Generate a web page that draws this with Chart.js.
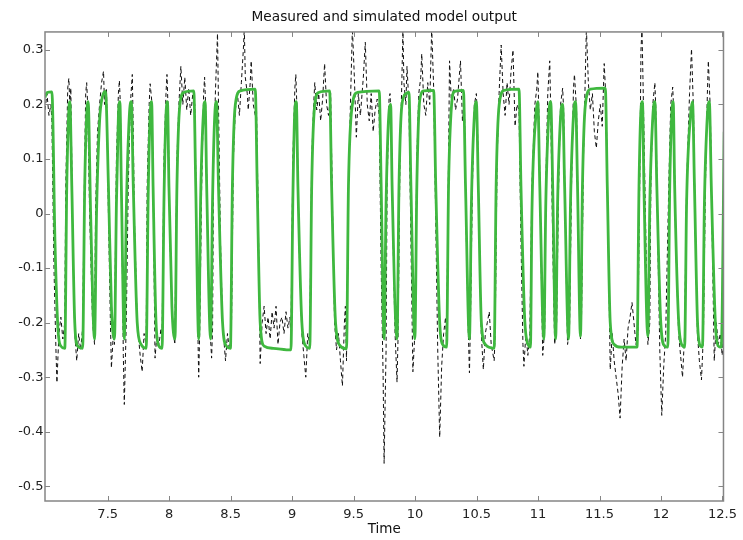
<!DOCTYPE html>
<html>
<head>
<meta charset="utf-8">
<script src="https://cdn.jsdelivr.net/npm/chart.js@4/dist/chart.umd.min.js"></script>
<style>
  html, body { margin: 0; padding: 0; background: #fff; }
  #wrap { width: 743px; height: 540px; }
</style>
</head>
<body>
<div id="wrap"><canvas id="c" width="743" height="540"></canvas></div>
<script>
// Simulated model output (time, value)
const modelTime = [
  6.990,7.006,7.046,7.071,7.095,7.119,7.151,
  7.167,7.184,7.192,7.208,7.232,7.256,7.296,
  7.313,7.329,7.341,7.361,7.393,
  7.409,7.434,7.458,7.482,7.506,7.530,7.555,
  7.571,7.587,7.599,7.611,7.635,
  7.651,7.676,7.692,7.708,7.740,7.772,7.813,
  7.829,7.845,7.857,7.869,7.893,7.917,7.942,
  7.958,7.974,7.986,7.998,8.022,8.047,
  8.063,8.087,8.119,8.200,8.216,8.240,
  8.256,8.280,8.292,8.305,8.337,
  8.353,8.373,8.385,8.401,8.434,8.466,8.498,
  8.514,8.538,8.579,8.700,8.716,8.740,8.772,8.845,8.990,
  9.006,9.022,9.034,9.047,9.079,9.111,9.143,
  9.159,9.184,9.216,9.305,9.321,9.353,9.393,9.442,
  9.458,9.490,9.530,9.708,9.724,9.748,
  9.764,9.789,9.801,9.813,9.853,
  9.869,9.893,9.926,9.950,9.966,9.998,
  10.014,10.039,10.071,10.151,10.168,10.200,10.224,10.256,
  10.272,10.297,10.321,10.393,10.410,10.442,
  10.458,10.482,10.498,10.514,10.539,10.571,10.643,
  10.659,10.684,10.724,10.845,10.861,10.893,10.926,10.938,
  10.950,10.982,10.998,11.014,11.047,
  11.063,11.087,11.103,11.119,11.143,
  11.159,11.184,11.200,11.216,11.248,
  11.264,11.288,11.305,11.321,11.345,
  11.361,11.385,11.426,11.547,11.563,11.587,11.619,11.676,11.805,
  11.821,11.837,11.849,11.861,11.893,
  11.909,11.934,11.950,11.966,11.998,12.030,12.055,
  12.071,12.087,12.099,12.111,12.144,12.176,12.192,
  12.208,12.240,12.256,12.272,12.297,12.321,12.337,
  12.353,12.377,12.393,12.409,12.442,12.466,12.490,
  12.514
];
const modelOutput = [
  0.213,0.222,0.223,-0.05,-0.21,-0.243,-0.247,
  0.05,0.19,0.205,0.05,-0.2,-0.243,-0.247,
  0.05,0.18,0.205,0.0,-0.23,
  0.0,0.17,0.215,0.224,0.05,-0.17,-0.23,
  0.02,0.18,0.205,0.05,-0.23,
  0.0,0.18,0.205,0.05,-0.2,-0.24,-0.247,
  0.03,0.18,0.205,0.05,-0.2,-0.243,-0.247,
  0.03,0.18,0.205,0.05,-0.17,-0.23,
  0.05,0.2,0.222,0.225,0.05,-0.23,
  0.03,0.19,0.205,0.05,-0.23,
  0.03,0.19,0.205,0.05,-0.2,-0.243,-0.247,
  0.05,0.2,0.225,0.228,0.05,-0.2,-0.243,-0.247,-0.25,
  0.03,0.19,0.205,0.05,-0.2,-0.243,-0.247,
  0.05,0.2,0.222,0.225,0.05,-0.2,-0.243,-0.248,
  0.05,0.2,0.222,0.225,0.05,-0.23,
  0.02,0.19,0.2,0.05,-0.23,
  0.05,0.2,0.22,0.222,0.05,-0.23,
  0.05,0.21,0.225,0.226,0.05,-0.2,-0.24,-0.245,
  0.05,0.2,0.224,0.226,0.05,-0.23,
  0.02,0.18,0.205,0.05,-0.2,-0.24,-0.247,
  0.05,0.2,0.226,0.228,0.05,-0.2,-0.243,-0.245,
  0.0,0.18,0.205,0.05,-0.23,
  0.02,0.18,0.205,0.05,-0.23,
  0.02,0.18,0.2,0.05,-0.23,
  0.02,0.18,0.205,0.05,-0.225,
  0.05,0.2,0.228,0.23,0.05,-0.2,-0.24,-0.245,-0.245,
  0.05,0.19,0.205,0.05,-0.225,
  0.02,0.18,0.205,0.05,-0.2,-0.243,-0.245,
  0.05,0.18,0.205,0.05,-0.2,-0.243,-0.245,
  0.02,0.18,0.205,0.05,-0.2,-0.243,-0.245,
  0.02,0.18,0.205,0.05,-0.2,-0.243,-0.245,
  0.15
];

// Measured output (time, value)
const measuredTime = [
  6.990,7.006,7.022,7.038,7.046,7.063,7.079,7.087,7.103,7.119,7.135,7.151,
  7.159,7.175,7.184,7.192,7.200,7.216,7.232,7.248,7.264,7.280,7.296,
  7.313,7.321,7.329,7.337,7.353,7.377,7.393,
  7.401,7.417,7.434,7.450,7.466,7.474,7.490,7.506,7.522,7.530,7.546,7.555,
  7.571,7.587,7.595,7.603,7.619,7.627,7.635,7.651,
  7.667,7.684,7.700,7.708,7.716,7.740,7.764,7.780,7.796,7.813,
  7.821,7.837,7.845,7.861,7.877,7.885,7.901,7.917,7.934,7.942,
  7.958,7.974,7.982,7.990,8.006,8.030,8.046,
  8.063,8.079,8.095,8.111,8.127,8.143,8.159,8.175,8.192,8.208,8.224,8.232,8.240,8.248,
  8.264,8.280,8.288,8.296,8.313,8.329,8.345,8.353,
  8.361,8.377,8.393,8.401,8.417,8.434,8.458,8.474,8.490,8.506,
  8.522,8.538,8.555,8.571,8.587,8.603,8.611,8.619,8.635,8.643,8.659,8.667,8.684,8.700,8.708,
  8.724,8.740,8.756,8.772,8.788,8.804,8.821,8.837,8.853,8.869,8.885,8.901,8.917,8.934,8.950,8.966,8.982,8.990,
  9.006,9.022,9.030,9.038,9.055,9.079,9.095,9.111,9.127,9.143,
  9.159,9.175,9.184,9.200,9.216,9.232,9.248,9.264,9.280,9.296,9.313,
  9.329,9.345,9.361,9.377,9.393,9.409,9.425,9.433,9.442,
  9.458,9.474,9.490,9.506,9.522,9.538,9.555,9.579,9.595,9.611,9.627,9.643,9.659,9.675,9.692,9.708,
  9.724,9.740,9.748,9.756,9.764,
  9.772,9.788,9.796,9.805,9.821,9.837,9.853,9.861,
  9.877,9.893,9.901,9.909,9.925,9.934,9.950,9.966,9.982,9.998,
  10.014,10.030,10.046,10.054,10.071,10.087,10.103,10.119,10.135,10.151,
  10.167,10.184,10.200,10.216,10.232,10.248,10.256,
  10.272,10.280,10.296,10.313,10.329,10.345,10.369,10.385,10.401,
  10.417,10.433,10.442,10.450,
  10.466,10.482,10.498,10.506,
  10.522,10.538,10.555,10.571,10.587,10.603,10.619,10.643,10.651,
  10.667,10.683,10.700,10.716,10.732,10.748,10.764,10.780,10.796,10.813,10.829,10.845,
  10.861,10.877,10.885,10.901,10.917,10.933,
  10.950,10.974,10.990,10.998,11.006,11.022,11.038,11.054,
  11.063,11.079,11.095,11.103,11.119,11.135,11.151,
  11.167,11.183,11.200,11.208,11.224,11.240,11.256,
  11.272,11.288,11.296,11.313,11.329,11.345,11.353,
  11.369,11.385,11.393,11.409,11.425,11.442,11.458,11.474,11.490,11.506,11.522,11.538,11.554,
  11.571,11.587,11.603,11.619,11.635,11.651,11.667,11.684,11.700,11.716,11.732,11.748,11.764,11.780,11.796,11.812,
  11.829,11.837,11.845,11.853,11.861,11.877,11.893,11.909,
  11.917,11.933,11.950,11.958,11.974,11.990,12.006,12.022,12.038,
  12.063,12.079,12.095,12.103,12.119,12.143,12.159,12.175,12.192,
  12.208,12.232,12.248,12.264,12.280,12.296,12.312,12.329,12.345,
  12.361,12.377,12.385,12.401,12.417,12.433,12.450,12.466,12.482,12.498,
  12.514
];
const measuredOutput = [
  0.19,0.22,0.18,0.20,0.17,-0.10,-0.25,-0.31,-0.22,-0.19,-0.23,-0.20,
  0.05,0.23,0.248,0.20,0.23,-0.05,-0.22,-0.27,-0.22,-0.25,-0.21,
  0.10,0.22,0.24,0.20,0.00,-0.20,-0.24,
  0.00,0.15,0.20,0.24,0.261,0.20,0.23,0.00,-0.20,-0.283,-0.22,-0.24,
  0.10,0.22,0.244,0.20,-0.10,-0.26,-0.35,-0.20,
  0.05,0.20,0.255,0.15,0.00,-0.20,-0.26,-0.29,-0.22,-0.24,
  0.05,0.20,0.238,0.20,-0.10,-0.265,-0.22,-0.24,-0.21,-0.23,
  0.10,0.22,0.255,0.20,-0.05,-0.21,-0.24,
  0.10,0.20,0.27,0.20,0.25,0.19,0.23,0.18,0.22,0.20,-0.05,-0.20,-0.30,-0.22,
  0.05,0.22,0.25,0.20,-0.05,-0.20,-0.265,-0.21,
  0.10,0.23,0.33,0.20,-0.05,-0.20,-0.27,-0.22,-0.25,-0.22,
  0.10,0.19,0.22,0.18,0.24,0.30,0.34,0.25,0.22,0.19,0.24,0.28,0.20,0.18,0.22,
  0.00,-0.275,-0.20,-0.17,-0.22,-0.19,-0.23,-0.18,-0.21,-0.17,-0.24,-0.20,-0.19,-0.22,-0.18,-0.21,-0.19,-0.23,
  0.10,0.23,0.255,0.20,-0.05,-0.22,-0.26,-0.30,-0.22,-0.24,
  0.10,0.20,0.24,0.19,0.22,0.17,0.21,0.275,0.20,0.18,0.22,
  0.00,-0.20,-0.25,-0.22,-0.27,-0.316,-0.20,-0.17,-0.27,
  0.05,0.20,0.34,0.25,0.14,0.22,0.18,0.25,0.314,0.20,0.17,0.22,0.15,0.19,0.21,0.18,
  -0.10,-0.30,-0.458,-0.35,-0.25,
  0.05,0.21,0.22,0.17,-0.05,-0.22,-0.309,-0.23,
  0.10,0.25,0.34,0.24,0.20,0.27,0.20,-0.05,-0.29,-0.22,
  0.10,0.22,0.25,0.293,0.20,0.18,0.24,0.20,0.34,0.23,
  0.00,-0.25,-0.41,-0.28,-0.22,-0.19,-0.24,
  0.10,0.28,0.20,0.23,0.19,0.21,0.28,0.17,0.20,
  -0.05,-0.22,-0.292,-0.20,
  0.05,0.20,0.22,0.18,
  -0.05,-0.22,-0.286,-0.22,-0.20,-0.18,-0.24,-0.27,-0.22,
  0.10,0.22,0.309,0.22,0.18,0.24,0.20,0.26,0.30,0.16,0.20,0.19,
  -0.05,-0.24,-0.28,-0.22,-0.26,-0.22,
  0.05,0.20,0.23,0.26,0.19,-0.05,-0.26,-0.21,
  0.05,0.22,0.28,0.19,-0.05,-0.24,-0.20,
  0.05,0.20,0.23,0.19,-0.05,-0.24,-0.21,
  0.05,0.23,0.255,0.19,-0.05,-0.23,-0.20,
  0.10,0.26,0.34,0.24,0.19,0.22,0.15,0.12,0.17,0.20,0.16,0.275,0.20,
  -0.05,-0.286,-0.22,-0.27,-0.30,-0.33,-0.375,-0.28,-0.23,-0.27,-0.21,-0.19,-0.163,-0.20,-0.24,-0.22,
  0.10,0.30,0.34,0.25,0.15,-0.05,-0.24,-0.20,
  0.05,0.20,0.24,0.19,-0.05,-0.25,-0.37,-0.28,-0.22,
  0.05,0.20,0.232,0.19,-0.05,-0.22,-0.26,-0.30,-0.22,
  0.05,0.22,0.302,0.19,-0.05,-0.22,-0.27,-0.305,-0.22,
  0.05,0.22,0.28,0.19,-0.05,-0.27,-0.20,-0.24,-0.22,-0.26,
  0.00
];

// Axis ranges and tick positions
const timeRange = [6.99, 12.508];
const outputRange = [-0.527, 0.333];
const timeTicks = [7.5, 8, 8.5, 9, 9.5, 10, 10.5, 11, 11.5, 12, 12.5];
const outputTicks = [-0.5, -0.4, -0.3, -0.2, -0.1, 0, 0.1, 0.2, 0.3];

const toPoints = (xs, ys) => xs.map((x, i) => ({ x, y: ys[i] }));
const fmt = v => String(Math.round(v * 10) / 10);
const FONT = 'DejaVu Sans';
const AXIS_GRAY = '#858585';

// Box around the plot with inward tick marks on all four sides
const boxAndTicks = {
  id: 'boxAndTicks',
  afterDatasetsDraw(chart) {
    const { ctx, chartArea: a, scales } = chart;
    const len = 5;
    ctx.save();
    ctx.strokeStyle = AXIS_GRAY;
    ctx.lineWidth = 1.5;
    ctx.strokeRect(a.left, a.top, a.right - a.left, a.bottom - a.top);
    ctx.lineWidth = 1;
    ctx.beginPath();
    timeTicks.forEach(v => {
      const px = Math.round(scales.x.getPixelForValue(v)) + 0.5;
      ctx.moveTo(px, a.bottom); ctx.lineTo(px, a.bottom - len);
      ctx.moveTo(px, a.top); ctx.lineTo(px, a.top + len);
    });
    outputTicks.forEach(v => {
      const py = Math.round(scales.y.getPixelForValue(v)) + 0.5;
      ctx.moveTo(a.left, py); ctx.lineTo(a.left + len, py);
      ctx.moveTo(a.right, py); ctx.lineTo(a.right - len, py);
    });
    ctx.stroke();
    ctx.restore();
  }
};

new Chart(document.getElementById('c'), {
  type: 'line',
  data: {
    datasets: [
      {
        label: 'Simulated',
        data: toPoints(modelTime, modelOutput),
        borderColor: '#3fb83f',
        borderWidth: 2.8,
        pointRadius: 0,
        cubicInterpolationMode: 'monotone',
        fill: false
      },
      {
        label: 'Measured',
        data: toPoints(measuredTime, measuredOutput),
        borderColor: '#111111',
        borderWidth: 1,
        borderDash: [4, 3],
        pointRadius: 0,
        tension: 0,
        fill: false
      }
    ]
  },
  options: {
    responsive: false,
    devicePixelRatio: 1,
    animation: false,
    events: [],
    layout: { padding: { left: 0, right: 14, top: 0, bottom: 0 } },
    plugins: {
      legend: { display: false },
      tooltip: { enabled: false },
      title: {
        display: true,
        text: 'Measured and simulated model output',
        fullSize: false,
        color: '#111',
        font: { family: FONT, size: 13.7, weight: 'normal' },
        padding: { top: 9, bottom: 6.5 }
      }
    },
    scales: {
      x: {
        type: 'linear',
        min: timeRange[0],
        max: timeRange[1],
        afterBuildTicks: s => { s.ticks = timeTicks.map(v => ({ value: v })); },
        afterFit: s => { s.height = 39; },
        grid: { display: false, drawTicks: false },
        border: { display: false },
        ticks: {
          color: '#222',
          font: { family: FONT, size: 13 },
          padding: 6,
          maxRotation: 0,
          autoSkip: false,
          callback: v => fmt(v)
        },
        title: {
          display: true,
          text: 'Time',
          color: '#111',
          font: { family: FONT, size: 13.5 },
          padding: { top: 0, bottom: 2 }
        }
      },
      y: {
        type: 'linear',
        min: outputRange[0],
        max: outputRange[1],
        afterBuildTicks: s => { s.ticks = outputTicks.map(v => ({ value: v })); },
        afterFit: s => { s.width = 45; },
        grid: { display: false, drawTicks: false },
        border: { display: false },
        ticks: {
          color: '#222',
          font: { family: FONT, size: 13 },
          padding: 1.5,
          autoSkip: false,
          callback: v => fmt(v)
        }
      }
    }
  },
  plugins: [boxAndTicks]
});
</script>
</body>
</html>
